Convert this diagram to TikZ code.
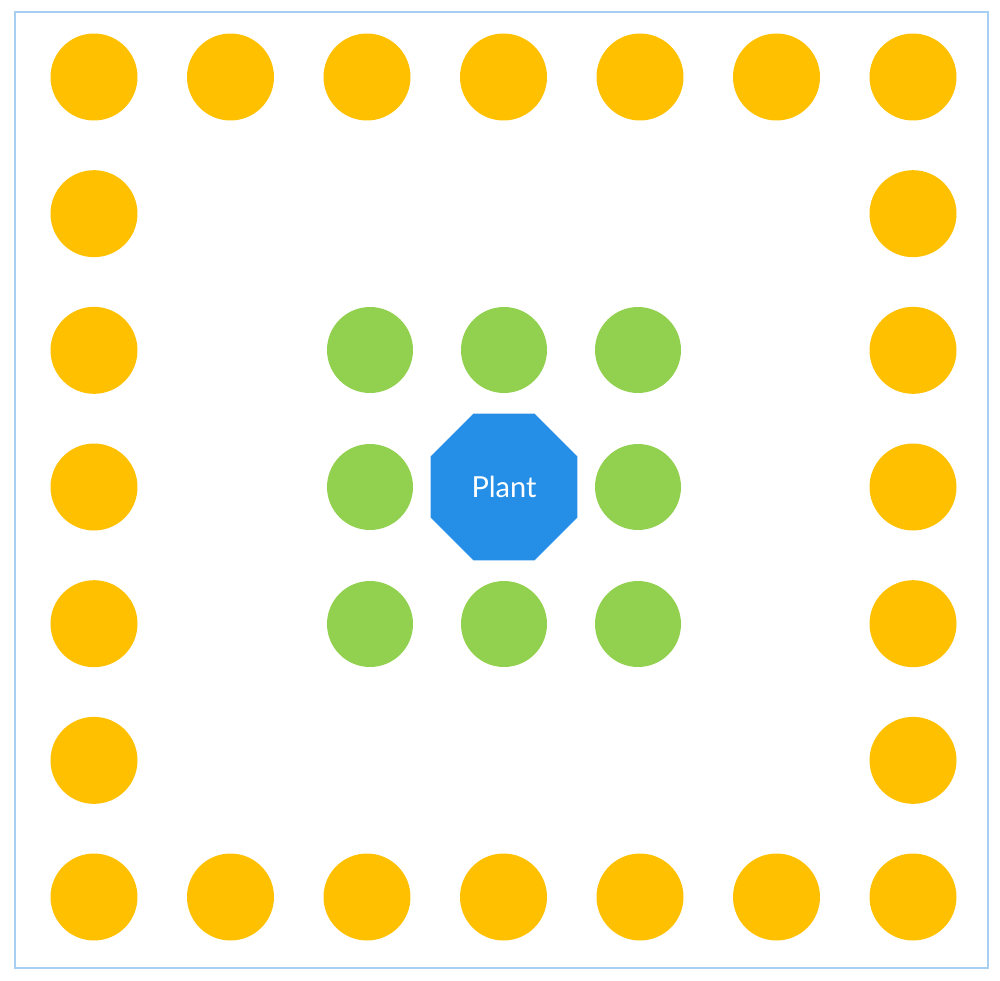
\documentclass[tikz,border=0pt]{standalone}
\usepackage{fontspec}
\setsansfont{Lato}
\usetikzlibrary{shapes.geometric,positioning}
\definecolor{dotorange}{HTML}{FFC000}
\definecolor{dotgreen}{HTML}{92D050}
\definecolor{plantblue}{HTML}{258FE8}
\definecolor{frameblue}{HTML}{A6CFF2}

\begin{document}
\begin{tikzpicture}[x=0.02cm,y=-0.02cm,
	orange dot/.style={circle,fill=dotorange,minimum size=1.74cm,inner sep=0pt},
	green dot/.style={circle,fill=dotgreen,minimum size=1.72cm,inner sep=0pt},
	plant/.style={regular polygon,regular polygon sides=8,fill=plantblue,minimum size=3.18cm,inner sep=0pt,text=white,font=\sffamily\fontsize{16.5}{20}\selectfont}]
		\useasboundingbox (0,0) rectangle (1000,980);
		\draw[frameblue,line width=1.5pt] (15,12) rectangle (988,968);
		% outer ring
		\foreach \i in {0,...,6} {
			\node[orange dot] (top-\i) at (94+136.5*\i,77) {};
			\node[orange dot] (bottom-\i) at (94+136.5*\i,897) {};
		}
		\foreach \j in {1,...,5} {
			\node[orange dot] (left-\j) at (94,77+136.67*\j) {};
			\node[orange dot] (right-\j) at (913,77+136.67*\j) {};
		}
		% plant and its neighbours
		\node[plant] (plant) at (504,487) {Plant};
		\foreach \i in {-1,0,1}
			\foreach \j in {-1,0,1} {
				\ifnum\i=0 \ifnum\j=0 \else
					\node[green dot] (near-\i-\j) at (504+134*\i,487+137*\j) {};
				\fi \else
					\node[green dot] (near-\i-\j) at (504+134*\i,487+137*\j) {};
				\fi
			}
	\end{tikzpicture}
\end{document}
